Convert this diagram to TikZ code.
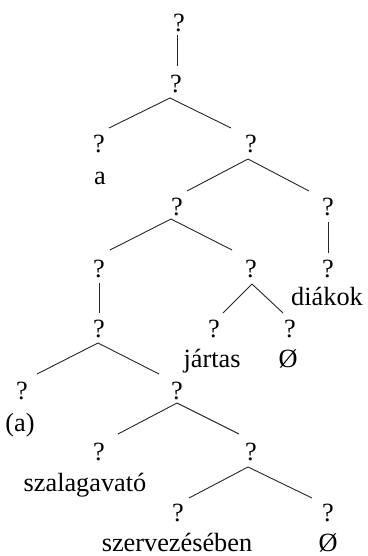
\documentclass[tikz,border=0pt]{standalone}
\usepackage{fontspec}
\setmainfont{Liberation Serif}
\usetikzlibrary{calc}
\begin{document}
\begin{tikzpicture}[x=1pt,y=-1pt,
  lbl/.style={anchor=base,inner sep=0pt,font=\fontsize{26.3}{30}\selectfont},
  edge/.style={line width=0.9pt,black!85}]
\useasboundingbox (0,0) rectangle (367,556);
% nodes
\node[lbl] (r) at (179,32) {?};
\node[lbl] (n1) at (176,93) {?};
\node[lbl] (n2a) at (99,153) {?};
\node[lbl] (a) at (100,184) {a};
\node[lbl] (n2b) at (251,153) {?};
\node[lbl] (n3a) at (177,215) {?};
\node[lbl] (n3b) at (328,215) {?};
\node[lbl] (n4a) at (99,277) {?};
\node[lbl] (n4b) at (251,277) {?};
\node[lbl] (n4c) at (328,277) {?};
\node[lbl] (diakok) at (327,305) {diákok};
\node[lbl] (n5a) at (99,337) {?};
\node[lbl] (n5b) at (214,337) {?};
\node[lbl] (n5c) at (290,337) {?};
\node[lbl] (jartas) at (212,367) {jártas};
\node[lbl] (o1) at (288,367) {Ø};
\node[lbl] (n6a) at (22,399) {?};
\node[lbl] (n6b) at (177,399) {?};
\node[lbl] (paren) at (20,431) {(a)};
\node[lbl] (n7a) at (99,460) {?};
\node[lbl] (n7b) at (251,460) {?};
\node[lbl] (szal) at (85,491) {szalagavató};
\node[lbl] (n8a) at (178,521) {?};
\node[lbl] (n8b) at (328,521) {?};
\node[lbl] (szerv) at (177,551) {szervezésében};
\node[lbl] (o2) at (328,551) {Ø};
% edges
\draw[edge] ($(r.base)+(-2,3)$) -- ($(n1.base)+(1,-27)$);
\draw[edge] ($(n1.base)+(-6,5)$) -- ($(n2a.base)+(10,-25)$);
\draw[edge] ($(n1.base)+(-6,5)$) -- ($(n2b.base)+(-20,-25)$);
\draw[edge] ($(n2b.base)+(-3,6)$) -- ($(n3a.base)+(10,-24)$);
\draw[edge] ($(n2b.base)+(-3,6)$) -- ($(n3b.base)+(-19,-24)$);
\draw[edge] ($(n3a.base)+(-6,4)$) -- ($(n4a.base)+(11,-27)$);
\draw[edge] ($(n3a.base)+(-6,4)$) -- ($(n4b.base)+(-19,-27)$);
\draw[edge] ($(n3b.base)+(0,7)$) -- ($(n4c.base)+(0,-24)$);
\draw[edge] ($(n4a.base)+(0,6)$) -- ($(n5a.base)+(0,-24)$);
\draw[edge] ($(n4b.base)+(1,7)$) -- ($(n5b.base)+(9,-24)$);
\draw[edge] ($(n4b.base)+(1,7)$) -- ($(n5c.base)+(-7,-24)$);
\draw[edge] ($(n5a.base)+(-1,6)$) -- ($(n6a.base)+(15,-25)$);
\draw[edge] ($(n5a.base)+(-1,6)$) -- ($(n6b.base)+(-18,-25)$);
\draw[edge] ($(n6b.base)+(0,4)$) -- ($(n7a.base)+(19,-26)$);
\draw[edge] ($(n6b.base)+(0,4)$) -- ($(n7b.base)+(-12,-26)$);
\draw[edge] ($(n7b.base)+(-3,7)$) -- ($(n8a.base)+(11,-23)$);
\draw[edge] ($(n7b.base)+(-3,7)$) -- ($(n8b.base)+(-16,-23)$);
\end{tikzpicture}
\end{document}
